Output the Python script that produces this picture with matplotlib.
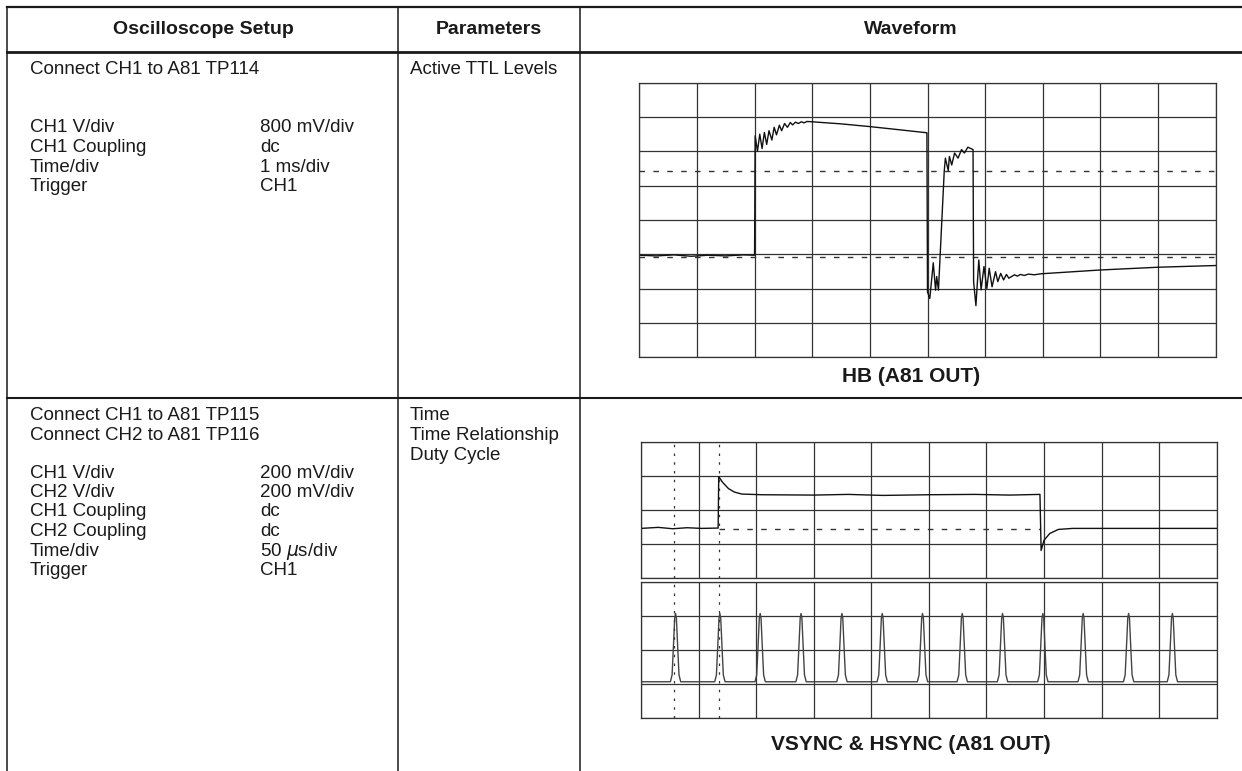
import matplotlib
matplotlib.use("Agg")
import matplotlib.pyplot as plt

# ---- table text ----
HEADERS = ["Oscilloscope Setup", "Parameters", "Waveform"]

ROW1_CONNECT = ["Connect CH1 to A81 TP114"]
ROW1_SETTINGS = ["CH1 V/div", "CH1 Coupling", "Time/div", "Trigger"]
ROW1_VALUES = ["800 mV/div", "dc", "1 ms/div", "CH1"]
ROW1_PARAMS = ["Active TTL Levels"]
ROW1_CAPTION = "HB (A81 OUT)"

ROW2_CONNECT = ["Connect CH1 to A81 TP115", "Connect CH2 to A81 TP116"]
ROW2_SETTINGS = ["CH1 V/div", "CH2 V/div", "CH1 Coupling", "CH2 Coupling",
                 "Time/div", "Trigger"]
ROW2_VALUES = ["200 mV/div", "200 mV/div", "dc", "dc", r"50 $\mu$s/div", "CH1"]
ROW2_PARAMS = ["Time", "Time Relationship", "Duty Cycle"]
ROW2_CAPTION = "VSYNC & HSYNC (A81 OUT)"

# ---- HB trace (divisions: x 0..10, y 0..8 from bottom) ----
HB_X = [0.0, 0.3, 0.6, 0.9, 1.2, 1.5, 1.8, 2.0,
        2.01, 2.05, 2.09, 2.13, 2.17, 2.21, 2.25, 2.30, 2.34, 2.38, 2.43,
        2.47, 2.52, 2.57, 2.62, 2.66, 2.71, 2.76, 2.81, 2.86, 2.91, 3.0,
        3.5, 4.0, 4.5, 4.99,
        5.00, 5.04, 5.10, 5.14, 5.16, 5.19, 5.29, 5.31, 5.36, 5.38, 5.42,
        5.47, 5.53, 5.59, 5.64, 5.70, 5.79,
        5.80, 5.84, 5.89, 5.93, 5.98, 6.03, 6.07, 6.12, 6.18, 6.22, 6.27,
        6.32, 6.37, 6.41, 6.46, 6.51, 6.56, 6.61, 6.68, 6.75, 6.85, 6.98,
        8.0, 9.0, 10.0]
HB_Y = [2.97, 2.95, 2.98, 2.94, 2.97, 2.95, 2.98, 2.97,
        6.45, 6.00, 6.50, 6.08, 6.55, 6.20, 6.60, 6.33, 6.70, 6.48, 6.76,
        6.60, 6.81, 6.70, 6.84, 6.77, 6.85, 6.81, 6.86, 6.83, 6.87, 6.86,
        6.80, 6.72, 6.63, 6.54,
        1.90, 1.71, 2.75, 1.95, 2.35, 1.95, 5.41, 5.80, 5.44, 5.85, 5.60,
        5.95, 5.80, 6.05, 5.95, 6.12, 6.05,
        2.20, 1.50, 2.83, 1.96, 2.64, 2.00, 2.59, 2.05, 2.49, 2.20, 2.44,
        2.25, 2.41, 2.30, 2.35, 2.40, 2.36, 2.41, 2.38, 2.42, 2.40, 2.43,
        2.54, 2.62, 2.67]
HB_DASHED = [5.43, 2.93]

# ---- VSYNC trace (upper grid, y 0..4) ----
VS_X = [0.0, 0.3, 0.55, 0.8, 1.05, 1.34, 1.35, 1.42, 1.52, 1.62, 1.75, 2.1,
        3.0, 3.6, 4.2, 5.0, 5.8, 6.4, 6.93, 6.95, 7.0, 7.1, 7.25, 7.5, 8.5,
        10.0]
VS_Y = [1.45, 1.48, 1.44, 1.47, 1.45, 1.46, 2.97, 2.80, 2.62, 2.52, 2.46,
        2.44, 2.43, 2.45, 2.42, 2.44, 2.45, 2.43, 2.45, 0.80, 1.10, 1.30,
        1.42, 1.45, 1.45, 1.45]
VS_DASHED = (1.35, 6.93, 1.42)

# ---- HSYNC pulses (lower grid, y 0..4) ----
HS_PEAKS = [0.60, 1.37, 2.07, 2.78, 3.49, 4.19, 4.89, 5.58, 6.28, 6.98,
            7.68, 8.47, 9.23]
HS_BASE = 1.07
HS_TOP = 3.07
PULSE_DX = [-0.09, -0.06, -0.035, -0.015, 0.0, 0.015, 0.035, 0.06, 0.09]
PULSE_FRAC = [0.0, 0.1, 0.55, 0.93, 1.0, 0.93, 0.55, 0.1, 0.0]

# cursor lines across both VSYNC/HSYNC grids
CURSORS = [0.58, 1.35]

W, H = 1242, 771
INK = "#1a1a1a"
BODY = ["Liberation Sans", "DejaVu Sans"]
BOLD = ["Liberation Sans", "DejaVu Sans"]


def scope_axes(fig, left, top, right, bottom, ny):
    """Add a scope graticule axes given pixel box."""
    ax = fig.add_axes([left / W, 1 - bottom / H, (right - left) / W,
                       (bottom - top) / H])
    ax.set_xlim(0, 10)
    ax.set_ylim(0, ny)
    ax.set_xticks(range(11))
    ax.set_yticks(range(ny + 1))
    ax.tick_params(length=0, labelbottom=False, labelleft=False)
    ax.grid(True, color="#333333", lw=0.9)
    for s in ax.spines.values():
        s.set_color("#333333")
        s.set_linewidth(0.9)
    ax.set_facecolor("white")
    return ax


def put_lines(ax, x, y0, lines, step, **kw):
    for i, t in enumerate(lines):
        ax.text(x, y0 + i * step, t, va="center", ha="left", **kw)


fig = plt.figure(figsize=(W / 100, H / 100), dpi=100)
bg = fig.add_axes([0, 0, 1, 1])
bg.set_xlim(0, W)
bg.set_ylim(H, 0)
bg.axis("off")

# table rules
bg.plot([7, W], [7, 7], color=INK, lw=1.6)
bg.plot([7, W], [52, 52], color=INK, lw=2.0)
bg.plot([7, W], [398, 398], color=INK, lw=1.5)
for x in [7, 398, 580]:
    bg.plot([x, x], [7, H], color=INK, lw=1.1)

# headers
for cx, t in zip([203, 489, 911], HEADERS):
    bg.text(cx, 29, t, ha="center", va="center", fontsize=14,
            fontweight="bold", family=BOLD, color=INK)

txt = dict(fontsize=13.5, family=BODY, color=INK)

# row 1
put_lines(bg, 30, 70, ROW1_CONNECT, 19.5, **txt)
put_lines(bg, 30, 128, ROW1_SETTINGS, 19.5, **txt)
put_lines(bg, 260, 128, ROW1_VALUES, 19.5, **txt)
put_lines(bg, 410, 70, ROW1_PARAMS, 19.5, **txt)
bg.text(911, 377, ROW1_CAPTION, ha="center", va="center", fontsize=15,
        fontweight="bold", family=BOLD, color=INK)

# row 2
put_lines(bg, 30, 416, ROW2_CONNECT, 19.5, **txt)
put_lines(bg, 30, 473, ROW2_SETTINGS, 19.5, **txt)
put_lines(bg, 260, 473, ROW2_VALUES, 19.5, **txt)
put_lines(bg, 410, 416, ROW2_PARAMS, 19.5, **txt)
bg.text(911, 745, ROW2_CAPTION, ha="center", va="center", fontsize=15,
        fontweight="bold", family=BOLD, color=INK)

# HB scope
ax1 = scope_axes(fig, 639.3, 82.7, 1215.7, 357.1, 8)
for y in HB_DASHED:
    ax1.axhline(y, color="#333", lw=1.0, ls=(0, (4, 6)))
ax1.plot(HB_X, HB_Y, color="#111", lw=1.0)

# VSYNC / HSYNC scope (two stacked 4-division grids)
ax2 = scope_axes(fig, 641, 441.7, 1216.7, 577.7, 4)
ax3 = scope_axes(fig, 641, 581.7, 1216.7, 718.3, 4)

x0, x1, yd = VS_DASHED
ax2.plot([x0, x1], [yd, yd], color="#333", lw=1.0, ls=(0, (4, 6)))
ax2.plot(VS_X, VS_Y, color="#111", lw=1.0)

hs_x, hs_y = [0.0], [HS_BASE]
for p in HS_PEAKS:
    for dx, f in zip(PULSE_DX, PULSE_FRAC):
        hs_x.append(p + dx)
        hs_y.append(HS_BASE + f * (HS_TOP - HS_BASE))
hs_x.append(10.0)
hs_y.append(HS_BASE)
ax3.plot(hs_x, hs_y, color="#444", lw=1.0)

for ax in (ax2, ax3):
    for c in CURSORS:
        ax.axvline(c, color="#333", lw=0.9, ls=(0, (2, 5)))

fig.savefig("out.png", dpi=100)
